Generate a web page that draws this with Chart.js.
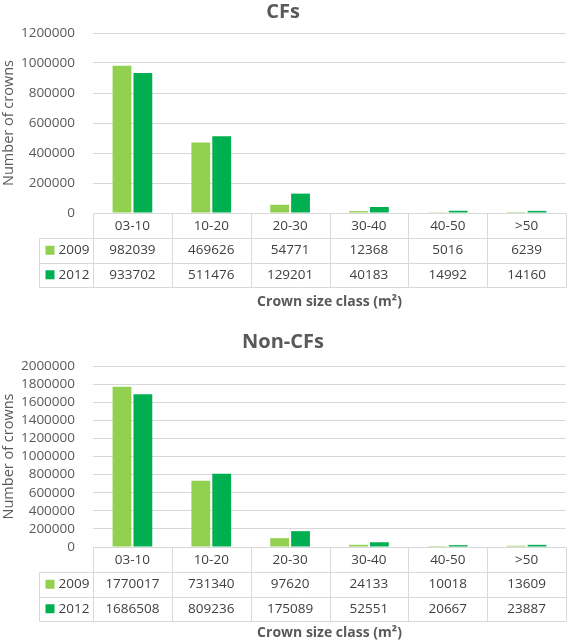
<!DOCTYPE html>
<html>
<head>
<meta charset="utf-8">
<script src="https://cdn.jsdelivr.net/npm/chart.js@4"></script>
<style>
  body { margin: 0; background: #fff; }
  canvas { display: block; }
</style>
</head>
<body>
<canvas id="cfChart" width="568" height="320"></canvas>
<canvas id="nonCfChart" width="568" height="323"></canvas>
<script>
const sizeClasses = ['03-10', '10-20', '20-30', '30-40', '40-50', '>50'];
const cf2009 = [982039, 469626, 54771, 12368, 5016, 6239];
const cf2012 = [933702, 511476, 129201, 40183, 14992, 14160];
const nonCf2009 = [1770017, 731340, 97620, 24133, 10018, 13609];
const nonCf2012 = [1686508, 809236, 175089, 52551, 20667, 23887];
const cfTicksMax = 1200000;
const nonCfTicksMax = 2000000;
const tickStep = 200000;

const light = '#92D050';
const dark = '#00B050';
const textGrey = '#595959';
const lineGrey = '#d9d9d9';

// draws the data table (with legend keys) under the x axis
const dataTable = {
  id: 'dataTable',
  afterDraw(chart) {
    const { ctx, chartArea: a, scales: { x } } = chart;
    const n = chart.data.labels.length;
    const w = (a.right - a.left) / n;
    const rh = chart.options.plugins.dataTable.rowHeight;
    const top = Math.round(a.bottom) + 0.5;
    const legL = Math.round(a.left - 54) + 0.5;

    ctx.save();
    ctx.strokeStyle = lineGrey;
    ctx.lineWidth = 1;
    ctx.beginPath();
    ctx.moveTo(a.left, top); ctx.lineTo(a.right, top);
    for (let r = 1; r <= 3; r++) {
      const yy = Math.round(top + r * rh) + 0.5;
      ctx.moveTo(legL, yy); ctx.lineTo(a.right, yy);
    }
    for (let i = 0; i <= n; i++) {
      const xx = Math.round(a.left + i * w) + 0.5;
      ctx.moveTo(xx, top); ctx.lineTo(xx, Math.round(top + 3 * rh) + 0.5);
    }
    ctx.moveTo(legL, Math.round(top + rh) + 0.5);
    ctx.lineTo(legL, Math.round(top + 3 * rh) + 0.5);
    ctx.stroke();

    ctx.font = '13.5px "Open Sans"';
    ctx.fillStyle = '#404040';
    ctx.textAlign = 'center';
    ctx.textBaseline = 'middle';
    chart.data.labels.forEach((lab, i) => {
      const cx = x.getPixelForValue(i);
      ctx.fillText(lab, cx, top + rh / 2);
      chart.data.datasets.forEach((ds, j) => {
        ctx.fillText(String(ds.data[i]), cx, top + rh * (j + 1.5));
      });
    });

    chart.data.datasets.forEach((ds, j) => {
      const cy = top + rh * (j + 1.5);
      ctx.fillStyle = ds.backgroundColor;
      ctx.fillRect(legL + 6, cy - 4.5, 9, 9);
      ctx.fillStyle = '#404040';
      ctx.textAlign = 'left';
      ctx.fillText(ds.label, legL + 19, cy);
    });
    ctx.restore();
  }
};

function makeChart(id, title, d2009, d2012, yMax, lay) {
  return new Chart(document.getElementById(id), {
    type: 'bar',
    data: {
      labels: sizeClasses,
      datasets: [
        { label: '2009', data: d2009, backgroundColor: light },
        { label: '2012', data: d2012, backgroundColor: dark }
      ]
    },
    options: {
      responsive: false,
      animation: false,
      layout: { padding: { left: 0, right: 2, top: 0, bottom: 0 } },
      datasets: { bar: { categoryPercentage: 0.53, barPercentage: 0.9 } },
      plugins: {
        legend: { display: false },
        tooltip: { enabled: false },
        title: {
          display: true,
          text: title,
          color: textGrey,
          font: { family: 'Open Sans', size: 20, weight: 'bold' },
          padding: lay.titlePad
        },
        dataTable: { rowHeight: 24.5 }
      },
      scales: {
        x: {
          grid: { display: false },
          border: { display: false },
          ticks: { display: false },
          title: {
            display: true,
            text: 'Crown size class (m²)',
            color: textGrey,
            font: { family: 'Open Sans', size: 14, weight: 'bold' },
            padding: { top: 0, bottom: lay.xTitleBottom }
          },
          afterFit(scale) { scale.height = lay.xHeight; }
        },
        y: {
          min: 0,
          max: yMax,
          grid: { color: lineGrey, drawTicks: false },
          border: { display: false },
          ticks: {
            stepSize: tickStep,
            autoSkip: false,
            padding: 18,
            color: textGrey,
            font: { family: 'Open Sans', size: 13.5 },
            callback: v => String(v)
          },
          title: {
            display: true,
            text: 'Number of crowns',
            color: textGrey,
            font: { family: 'Open Sans', size: 14.5 },
            padding: { top: 0, bottom: 0 }
          },
          afterFit(scale) { scale.width = 93; }
        }
      }
    },
    plugins: [dataTable]
  });
}

makeChart('cfChart', 'CFs', cf2009, cf2012, cfTicksMax,
  { titlePad: { top: 0, bottom: 9 }, xHeight: 107, xTitleBottom: 10 });
makeChart('nonCfChart', 'Non-CFs', nonCf2009, nonCf2012, nonCfTicksMax,
  { titlePad: { top: 10, bottom: 12 }, xHeight: 96, xTitleBottom: 2 });
</script>
</body>
</html>
